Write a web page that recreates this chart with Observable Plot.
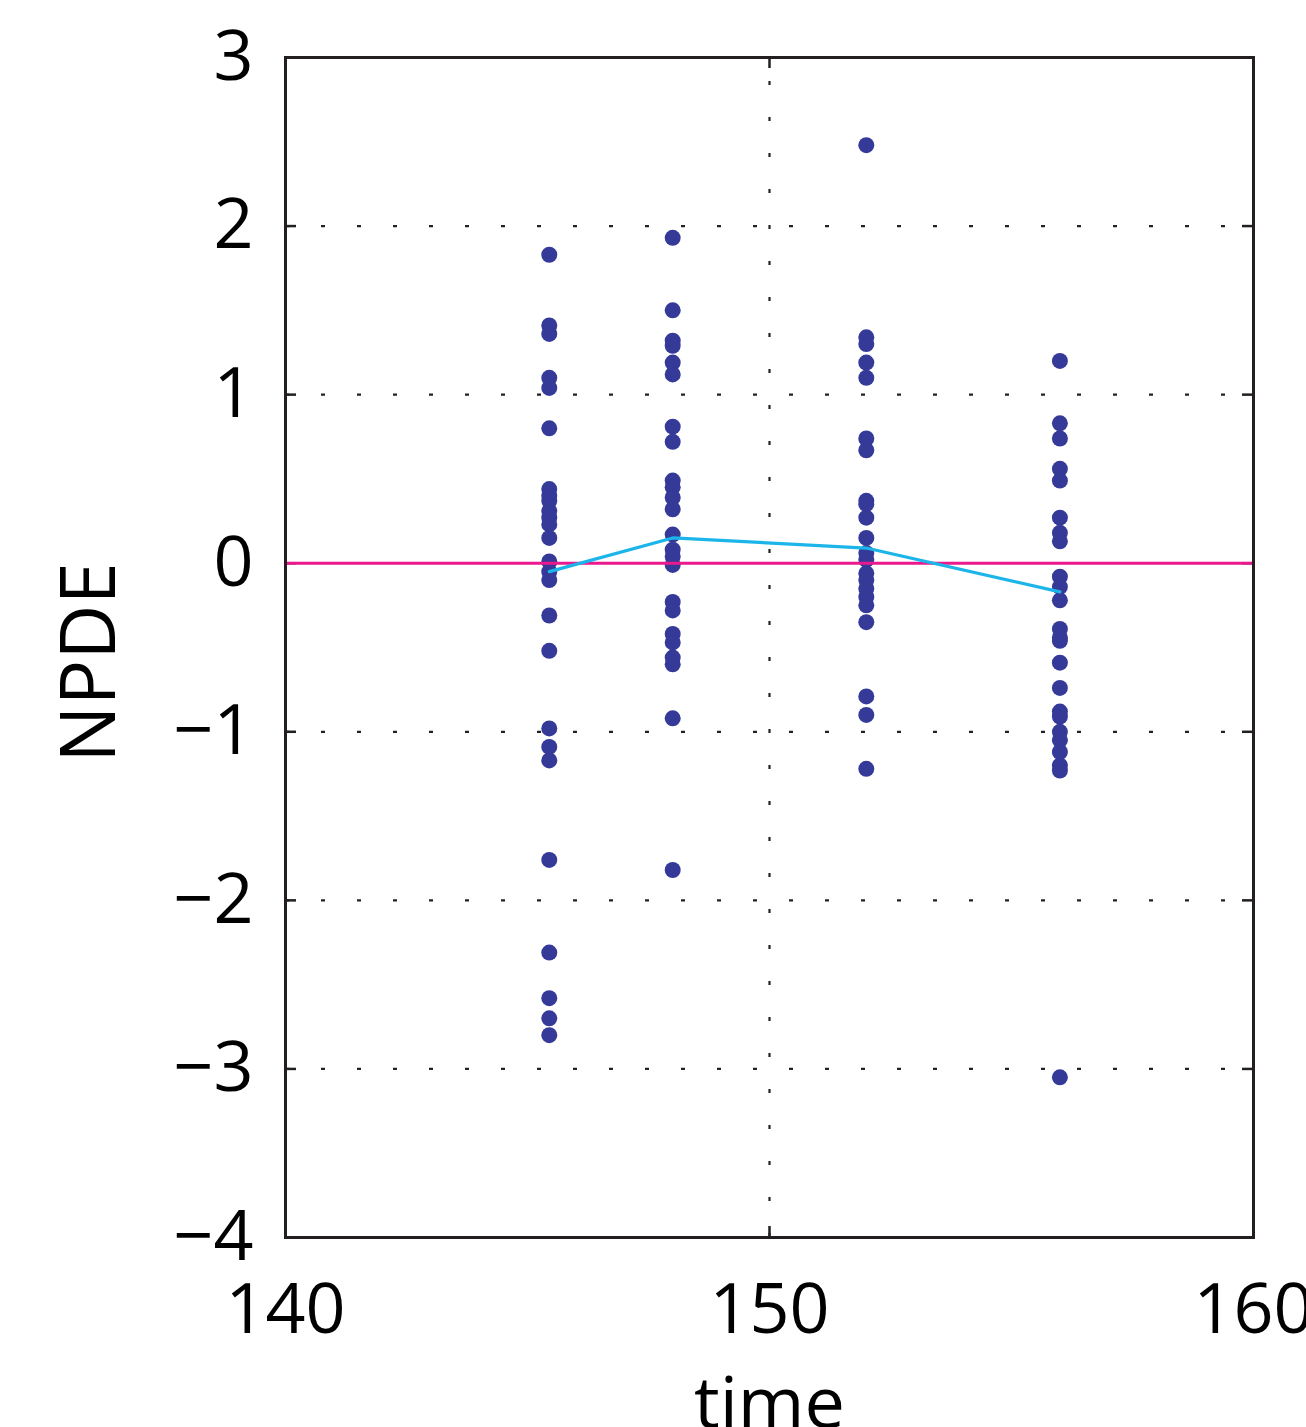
<!DOCTYPE html>
<html>
<head>
<meta charset="utf-8">
<script src="https://cdn.jsdelivr.net/npm/d3@7"></script>
<script src="https://cdn.jsdelivr.net/npm/@observablehq/plot@0.6"></script>
<style>
  html, body { margin: 0; padding: 0; background: #fff; }
  #chart svg { display: block; }
</style>
</head>
<body>
<div id="chart"></div>
<script>
// ---- data ----
const times = [145.45, 148, 152, 156];
const npdeT1 = [1.83, 1.41, 1.36, 1.10, 1.04, 0.80, 0.44, 0.40, 0.37, 0.31, 0.27, 0.23, 0.15, 0.01, -0.05, -0.10, -0.31, -0.52, -0.98, -1.09, -1.17, -1.76, -2.31, -2.58, -2.70, -2.80];
const npdeT2 = [1.93, 1.50, 1.32, 1.29, 1.19, 1.12, 0.81, 0.72, 0.49, 0.45, 0.39, 0.32, 0.17, 0.08, 0.04, -0.01, -0.23, -0.28, -0.42, -0.47, -0.56, -0.60, -0.92, -1.82];
const npdeT3 = [2.48, 1.34, 1.30, 1.19, 1.10, 0.74, 0.67, 0.37, 0.35, 0.27, 0.15, 0.06, 0.02, -0.06, -0.10, -0.15, -0.20, -0.25, -0.35, -0.79, -0.90, -1.22];
const npdeT4 = [1.20, 0.83, 0.74, 0.56, 0.49, 0.27, 0.18, 0.13, -0.08, -0.14, -0.22, -0.39, -0.44, -0.46, -0.59, -0.74, -0.88, -0.91, -1.00, -1.05, -1.12, -1.20, -1.23, -3.05];
const meanNpde = [-0.05, 0.15, 0.09, -0.17];
const xTicks = [140, 150, 160];
const yTicks = [-4, -3, -2, -1, 0, 1, 2, 3];
const xGrid = [150];
const yGrid = [-3, -2, -1, 1, 2];
const zeroLine = [0];

// ---- tables built from the arrays ----
const series = [npdeT1, npdeT2, npdeT3, npdeT4];
const points = series.flatMap((vals, i) => vals.map(v => ({time: times[i], npde: v})));
const meanRows = times.map((t, i) => ({time: t, npde: meanNpde[i]}));

const W = 1306, H = 1427;
const mL = 285, mR = 53, mT = 57, mB = 190;
const plotW = W - mL - mR, plotH = H - mT - mB;
const font = "'Open Sans', 'Liberation Sans', sans-serif";
const fmt = d => d < 0 ? "\u2212" + Math.abs(d) : String(d);
const gridDash = "4,32";

const chart = Plot.plot({
  width: W,
  height: H,
  marginLeft: mL,
  marginRight: mR,
  marginTop: mT,
  marginBottom: mB,
  style: {fontFamily: font, background: "#fff", color: "#000"},
  x: {domain: [140, 160]},
  y: {domain: [-4, 3]},
  marks: [
    // dotted grid
    Plot.ruleX(xGrid, {x: d => d, y1: -4, y2: 3, stroke: "#222", strokeWidth: 2.2, strokeDasharray: gridDash}),
    Plot.ruleY(yGrid, {y: d => d, x1: 140, x2: 160, stroke: "#222", strokeWidth: 2.2, strokeDasharray: gridDash}),
    // inward ticks
    Plot.tickX(xTicks, {x: d => d, insetTop: plotH - 11, stroke: "#231f20", strokeWidth: 2.5}),
    Plot.tickX(xTicks, {x: d => d, insetBottom: plotH - 11, stroke: "#231f20", strokeWidth: 2.5}),
    Plot.tickY(yTicks, {y: d => d, insetRight: plotW - 11, stroke: "#231f20", strokeWidth: 2.5}),
    Plot.tickY(yTicks, {y: d => d, insetLeft: plotW - 11, stroke: "#231f20", strokeWidth: 2.5}),
    // points
    Plot.dot(points, {x: "time", y: "npde", r: 8, fill: "#353A99", stroke: "none"}),
    // zero reference
    Plot.ruleY(zeroLine, {y: d => d, x1: 140, x2: 160, stroke: "#EA1A8E", strokeWidth: 3}),
    // mean line
    Plot.line(meanRows, {x: "time", y: "npde", stroke: "#1CB5EA", strokeWidth: 3.2}),
    // frame
    Plot.frame({stroke: "#231f20", strokeWidth: 3}),
    // axes
    Plot.axisX(xTicks, {anchor: "bottom", tickSize: 0, tickPadding: 46, fontSize: 70, tickFormat: fmt, label: null}),
    Plot.axisY(yTicks, {anchor: "left", tickSize: 0, tickPadding: 32, fontSize: 70, tickFormat: fmt, label: null}),
    // axis titles
    Plot.text(["time"], {frameAnchor: "bottom", textAnchor: "middle", lineAnchor: "top", dy: 139, fontSize: 72, fill: "#000"}),
    Plot.text(["NPDE"], {frameAnchor: "left", textAnchor: "middle", lineAnchor: "middle", rotate: -90, dx: -195, dy: 15, fontSize: 76, fill: "#000"})
  ]
});

document.getElementById("chart").appendChild(chart);
</script>
</body>
</html>
